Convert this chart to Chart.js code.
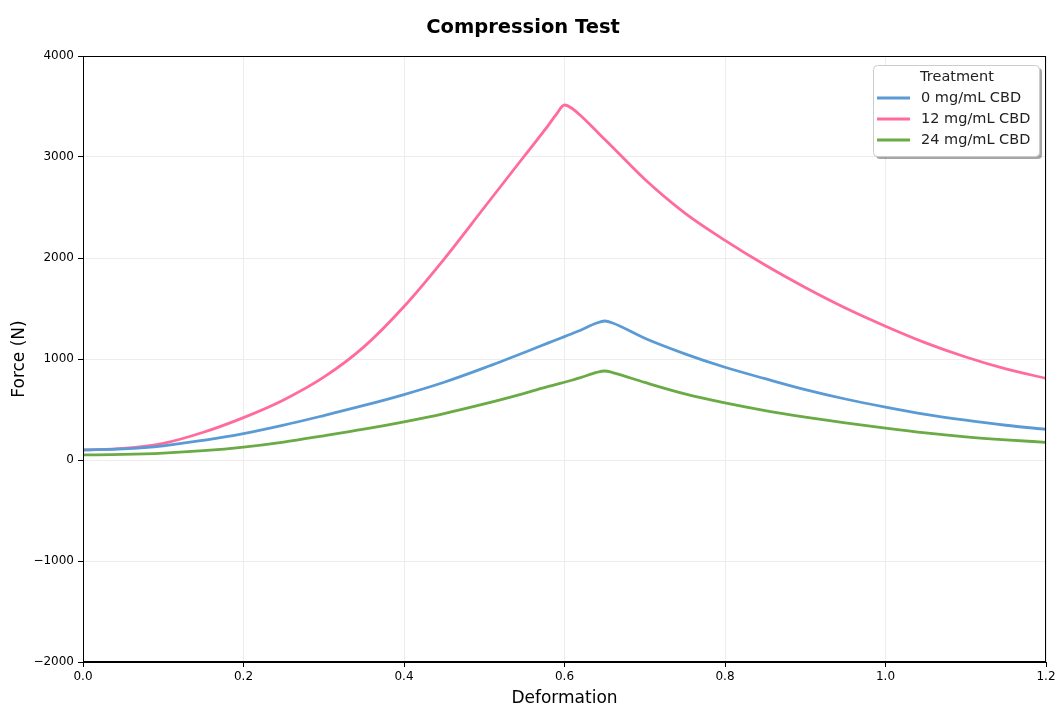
<!DOCTYPE html>
<html>
<head>
<meta charset="utf-8">
<script src="https://cdn.jsdelivr.net/npm/chart.js@4/dist/chart.umd.min.js"></script>
<style>
  html, body { margin: 0; padding: 0; background: #fff; }
  #wrap { width: 1056px; height: 705px; }
</style>
</head>
<body>
<div id="wrap"><canvas id="c" width="1056" height="705"></canvas></div>
<script>
const deformation = [0, 0.05, 0.1, 0.15, 0.2, 0.25, 0.3, 0.35, 0.4, 0.45, 0.5, 0.55, 0.58, 0.59, 0.6, 0.61, 0.62, 0.64, 0.65, 0.66, 0.7, 0.75, 0.8, 0.85, 0.9, 0.95, 1.0, 1.05, 1.1, 1.15, 1.2];
const force0  = [100, 110, 140, 195, 262, 345, 440, 540, 648, 770, 912, 1065, 1160, 1191, 1222, 1253, 1285, 1356, 1376, 1357, 1205, 1051, 918, 805, 697, 604, 524, 452, 394, 344, 304];
const force12 = [99, 115, 165, 275, 420, 595, 820, 1120, 1520, 1990, 2500, 3010, 3316, 3425, 3515, 3478, 3410, 3255, 3175, 3097, 2780, 2445, 2175, 1930, 1708, 1505, 1325, 1160, 1020, 902, 809];
const force24 = [50, 55, 68, 92, 128, 178, 240, 305, 378, 460, 555, 660, 728, 749, 770, 792, 815, 867, 881, 866, 768, 655, 566, 490, 425, 367, 315, 268, 230, 200, 175];
const seriesLabels = ['0 mg/mL CBD', '12 mg/mL CBD', '24 mg/mL CBD'];
const seriesColors = ['#5B9BD5', '#FF6B9D', '#6AAB45'];
const xTicks = [0, 0.2, 0.4, 0.6, 0.8, 1.0, 1.2];
const yTicks = [-2000, -1000, 0, 1000, 2000, 3000, 4000];

const FONT = "'DejaVu Sans', 'Liberation Sans', sans-serif";
const seriesValues = [force0, force12, force24];

const datasets = seriesValues.map((vals, i) => ({
  label: seriesLabels[i],
  data: deformation.map((x, j) => ({ x: x, y: vals[j] })),
  borderColor: seriesColors[i],
  backgroundColor: seriesColors[i],
  borderWidth: 2.8,
  pointRadius: 0,
  fill: false,
  cubicInterpolationMode: 'monotone'
}));

const frame = {
  id: 'frame',
  afterDatasetsDraw(chart) {
    const a = chart.chartArea, ctx = chart.ctx;
    ctx.save();
    ctx.strokeStyle = '#000';
    ctx.lineWidth = 1;
    ctx.strokeRect(Math.round(a.left) + 0.5, Math.round(a.top) + 0.5, Math.round(a.right - a.left) - 1, Math.round(a.bottom - a.top) - 1);
    ctx.restore();
  },
  afterDraw(chart) {
    const ctx = chart.ctx;
    const L = 873, T = 65, W = 166, H = 91, r = 4;
    ctx.save();
    ctx.fillStyle = 'rgba(0,0,0,0.35)';
    ctx.beginPath();
    ctx.roundRect(L + 3, T + 3, W, H, r);
    ctx.fill();
    ctx.fillStyle = '#fff';
    ctx.strokeStyle = '#cccccc';
    ctx.lineWidth = 1;
    ctx.beginPath();
    ctx.roundRect(L + 0.5, T + 0.5, W, H, r);
    ctx.fill();
    ctx.stroke();
    ctx.fillStyle = '#222';
    ctx.font = '14.5px ' + FONT;
    ctx.textBaseline = 'middle';
    ctx.textAlign = 'center';
    ctx.fillText('Treatment', L + W / 2 + 1, T + 12);
    ctx.textAlign = 'left';
    const rows = [98, 119, 140];
    chart.data.datasets.forEach((ds, i) => {
      ctx.strokeStyle = ds.borderColor;
      ctx.lineWidth = 2.8;
      ctx.beginPath();
      ctx.moveTo(877, rows[i]);
      ctx.lineTo(910, rows[i]);
      ctx.stroke();
      ctx.fillStyle = '#222';
      ctx.fillText(ds.label, 921, rows[i]);
    });
    ctx.restore();
  }
};

new Chart(document.getElementById('c'), {
  type: 'line',
  data: { datasets: datasets },
  options: {
    responsive: false,
    animation: false,
    devicePixelRatio: 1,
    layout: { padding: { left: 0, right: 10, top: 0, bottom: 0 } },
    plugins: {
      legend: { display: false },
      tooltip: { enabled: false },
      title: {
        display: true,
        text: 'Compression Test',
        color: '#000',
        font: { family: FONT, size: 19.5, weight: 'bold', lineHeight: 1.2 },
        padding: { top: 16, bottom: 16.6 }
      }
    },
    scales: {
      x: {
        type: 'linear',
        min: 0,
        max: 1.2,
        afterBuildTicks(axis) { axis.ticks = xTicks.map(v => ({ value: v })); },
        afterFit(axis) { axis.height = 43; axis.paddingLeft = 0; axis.paddingRight = 0; },
        ticks: {
          color: '#000',
          font: { family: FONT, size: 12 },
          padding: 3,
          maxRotation: 0,
          autoSkip: false,
          callback: v => Number(v).toFixed(1)
        },
        grid: { color: '#ececec', lineWidth: 1, tickColor: '#000', tickLength: 5, drawTicks: true },
        border: { display: true, color: '#000', width: 1 },
        title: {
          display: true,
          text: 'Deformation',
          color: '#000',
          font: { family: FONT, size: 17, lineHeight: 0.76 },
          padding: { top: 0, bottom: 0 }
        }
      },
      y: {
        type: 'linear',
        min: -2000,
        max: 4000,
        afterBuildTicks(axis) { axis.ticks = yTicks.map(v => ({ value: v })); },
        afterFit(axis) { axis.width = 83; axis.paddingTop = 0; axis.paddingBottom = 0; },
        ticks: {
          color: '#000',
          font: { family: FONT, size: 12 },
          padding: 4,
          autoSkip: false,
          callback: v => String(v).replace('-', '\u2212')
        },
        grid: { color: '#ececec', lineWidth: 1, tickColor: '#000', tickLength: 5, drawTicks: true },
        border: { display: true, color: '#000', width: 1 },
        title: {
          display: true,
          text: 'Force (N)',
          color: '#000',
          font: { family: FONT, size: 17, lineHeight: 1 },
          padding: { top: 11.5, bottom: 0 }
        }
      }
    }
  },
  plugins: [frame]
});
</script>
</body>
</html>
